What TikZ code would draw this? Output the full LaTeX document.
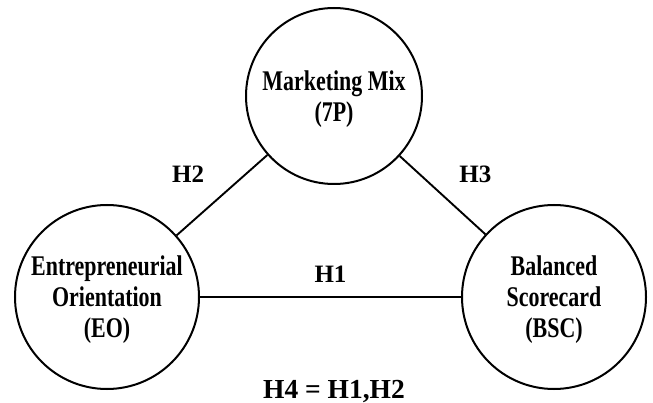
\documentclass[tikz,border=0pt]{standalone}
\usepackage{fontspec}
\setmainfont{Liberation Serif}
\newfontfamily\circfont[FakeStretch=0.77]{Liberation Serif}
\usetikzlibrary{positioning}
\tikzset{
  cnode/.style={circle,draw,line width=2pt,align=center,inner sep=0pt,text depth=0pt,
                minimum size=180pt,font=\circfont\bfseries\fontsize{28.5}{31}\selectfont,
                execute at begin node=\rule{0pt}{26pt}},
  hlab/.style={font=\bfseries\fontsize{25}{28}\selectfont,inner sep=1pt},
  hline/.style={line width=1.9pt},
}
\begin{document}
\begin{tikzpicture}[x=1pt,y=-1pt]
    \useasboundingbox (0,0) rectangle (653,403);
    \node[cnode,minimum size=176pt] (mm) at (334,96) {Marketing Mix\\(7P)};
    \node[cnode,minimum size=184pt] (eo) at (107,297) {Entrepreneurial\\Orientation\\(EO)};
    \node[cnode,minimum size=184pt] (bsc) at (554,297) {Balanced\\Scorecard\\(BSC)};
    \draw[hline] (eo) -- node[hlab,above=13pt] (h1) {H1} (bsc);
    \draw[hline] (eo) -- node[hlab,above left=11pt and 16pt] (h2) {H2} (mm);
    \draw[hline] (mm) -- node[hlab,above right=10pt and 15pt] (h3) {H3} (bsc);
    \node[hlab,font=\bfseries\fontsize{27.5}{30}\selectfont,anchor=base] (h4) at (334,398) {H4 = H1,H2};
\end{tikzpicture}
\end{document}
